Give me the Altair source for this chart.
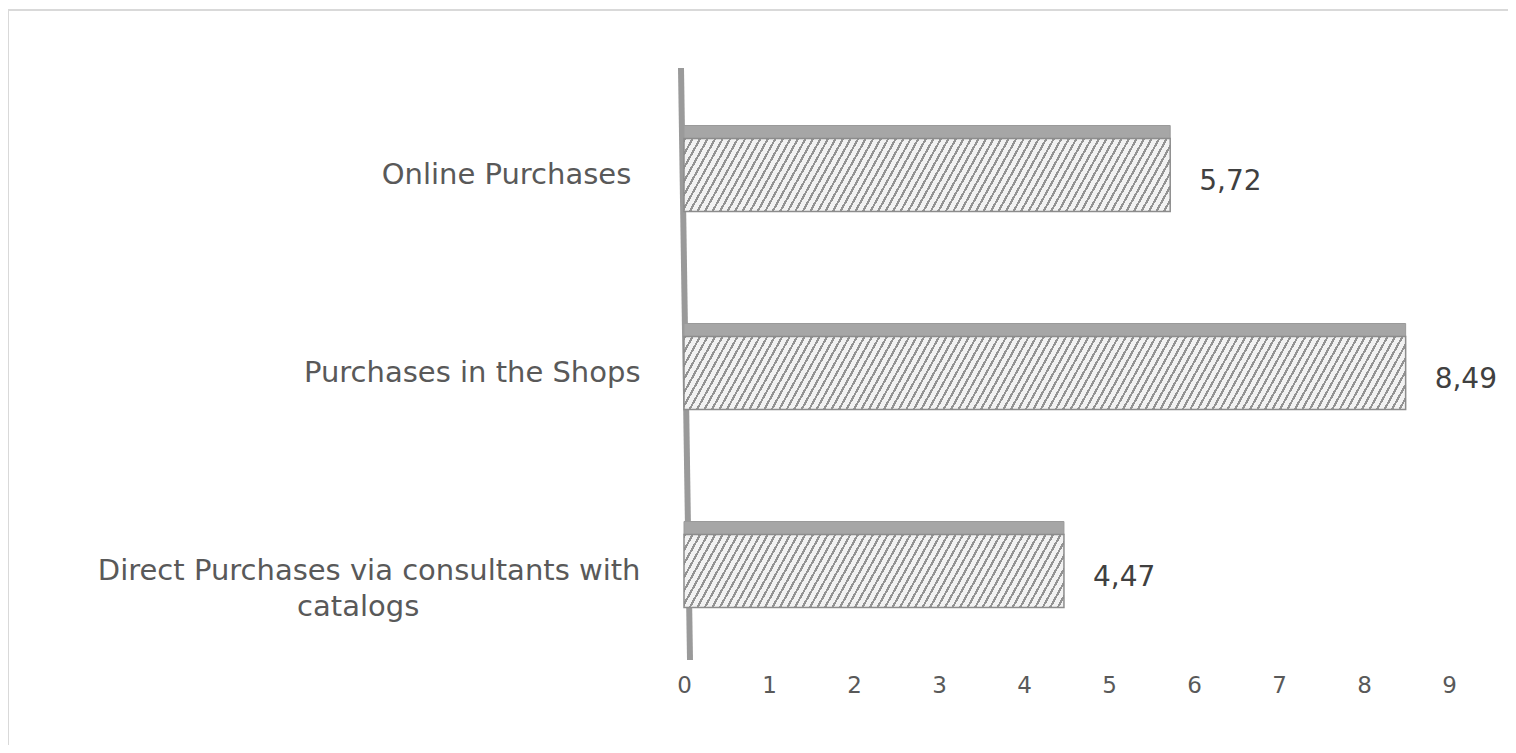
import altair as alt
import pandas as pd

categories = ["Online Purchases", "Purchases in the Shops", "Direct Purchases via consultants with catalogs"]
values = [5.72, 8.49, 4.47]
x_ticks = [0, 1, 2, 3, 4, 5, 6, 7, 8, 9]

W = 765
H = 594
PX = W / 9
BAR_H = 73
FONT = "DejaVu Sans"
NB = "\u00a0"
ZW = "\u200b"

df = pd.DataFrame({"category": categories, "value": values})
df["label"] = [f"{v:.2f}".replace(".", ",") for v in values]


def hatch(width_px, height_px, angle_tan=1.8, spacing=7.5, line_frac=0.32,
          bg="#f2f2f2", fg="#939393"):
    r = height_px / (angle_tan * width_px)
    k = (1 + r) / (1 + r * r)
    n = int(round(width_px * (1 + r) / spacing))
    stops = []
    for i in range(n):
        t0 = i / n
        t1 = (i + line_frac) / n
        t2 = (i + 1) / n
        stops += [{"offset": t0, "color": fg}, {"offset": t1, "color": fg},
                  {"offset": t1, "color": bg}, {"offset": t2, "color": bg}]
    return {"gradient": "linear", "x1": 0, "y1": 0, "x2": k, "y2": r * k, "stops": stops}


x_scale = alt.Scale(domain=[0, 9], nice=False, zero=True)
y_scale = alt.Scale(domain=categories, paddingInner=0.63, paddingOuter=0.315)

label_expr = ("datum.value == 'Direct Purchases via consultants with catalogs' ? "
              "['Direct Purchases via consultants with', 'catalogs" + NB * 24 + ZW + "'] : "
              "datum.value == 'Online Purchases' ? 'Online Purchases" + NB + ZW + "' : datum.value")

x_enc = alt.X("value:Q", scale=x_scale,
              axis=alt.Axis(values=x_ticks, format="d", title=None, domain=False, ticks=False, grid=False,
                            labelFlush=False, labelFontSize=23, labelColor="#595959", labelFont=FONT,
                            labelPadding=4))
y_enc = alt.Y("category:N", scale=y_scale, sort=categories,
              axis=alt.Axis(title=None, domain=False, ticks=False, grid=False, labelAlign="right",
                            labelBaseline="middle", labelPadding=44, labelFontSize=29,
                            labelColor="#595959", labelFont=FONT, labelLimit=900,
                            labelLineHeight=36, labelExpr=label_expr))

base = alt.Chart(df)

frame = alt.Chart(pd.DataFrame({"a": [0]})).mark_rect(filled=False, stroke="#d9d9d9", strokeWidth=2).encode(
    x=alt.value(-676), x2=alt.value(W + 80), y=alt.value(-66), y2=alt.value(H + 100))

wall = alt.Chart(pd.DataFrame({"a": [0]})).mark_rule(color="#9a9a9a", strokeWidth=6, xOffset=-3, x2Offset=6).encode(
    x=alt.datum(0, scale=x_scale), x2=alt.datum(0), y=alt.value(-8), y2=alt.value(H - 10))

strips = base.mark_bar(size=13, yOffset=-43, color="#a6a6a6", stroke="#9a9a9a", strokeWidth=1).encode(
    x=x_enc, y=y_enc)

layers = [frame, wall, strips]
for cat, val in zip(categories, values):
    layers.append(
        base.transform_filter(alt.datum.category == cat)
        .mark_bar(size=BAR_H, color=hatch(val * PX, BAR_H), stroke="#8c8c8c", strokeWidth=1.5)
        .encode(x=x_enc, y=y_enc)
    )

labels = base.mark_text(align="left", baseline="middle", dx=29, dy=7, fontSize=28,
                        color="#404040", font=FONT).encode(x=x_enc, y=y_enc, text="label:N")
layers.append(labels)

chart = alt.layer(*layers).properties(
    width=W, height=H,
    autosize=alt.AutoSizeParams(type="none"),
    padding={"left": 676, "top": 68, "right": 59, "bottom": 75},
).configure_view(stroke=None)

chart.save("out.html", embed_options={"renderer": "svg", "actions": False})
